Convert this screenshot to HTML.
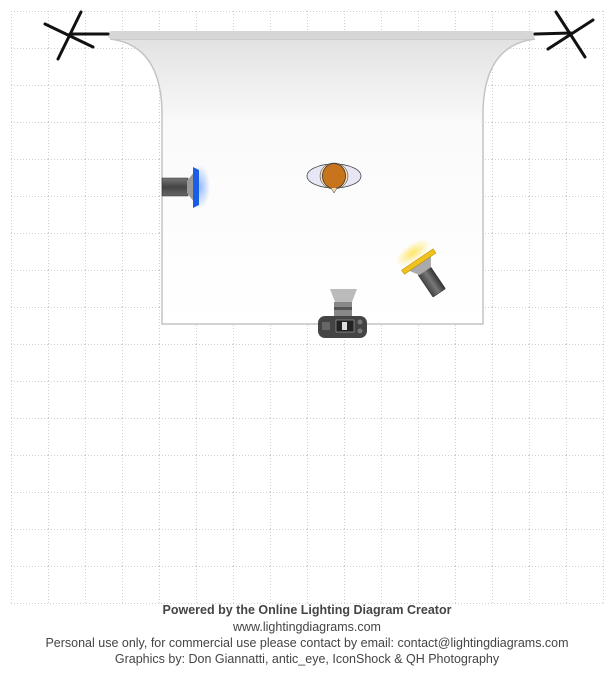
<!DOCTYPE html>
<html><head><style>
html,body{margin:0;padding:0;background:#fff;}
.t{position:absolute;left:0;width:614px;text-align:center;font-family:"Liberation Sans",Arial,sans-serif;font-size:12.5px;color:#444;}
</style></head><body>
<div style="position:relative;width:614px;height:674px;overflow:hidden;">
<svg width="614" height="674" style="position:absolute;left:0;top:0">
<defs>
<pattern id="g" x="11" y="11" width="37" height="37" patternUnits="userSpaceOnUse">
<path d="M0 0.5H37M0.5 0V37" stroke="#d0d0d0" stroke-width="1" stroke-dasharray="1 2" fill="none"/>
</pattern>
<linearGradient id="pg" x1="0" y1="0" x2="0" y2="1">
<stop offset="0" stop-color="#e2e2e2"/><stop offset="0.3" stop-color="#fafafa"/><stop offset="1" stop-color="#fff"/>
</linearGradient>
<linearGradient id="gb" x1="0" y1="0" x2="0" y2="1"><stop offset="0" stop-color="#777"/><stop offset="0.5" stop-color="#444"/><stop offset="1" stop-color="#666"/></linearGradient>
<linearGradient id="gb2" x1="0" y1="0" x2="1" y2="0"><stop offset="0" stop-color="#444"/><stop offset="0.5" stop-color="#777"/><stop offset="1" stop-color="#333"/></linearGradient>
<radialGradient id="bl" cx="0.5" cy="0.5" r="0.5"><stop offset="0" stop-color="#6aa0ff" stop-opacity="0.7"/><stop offset="1" stop-color="#6aa0ff" stop-opacity="0"/></radialGradient>
<radialGradient id="yl" cx="0.5" cy="0.5" r="0.5"><stop offset="0" stop-color="#ffe040" stop-opacity="0.8"/><stop offset="1" stop-color="#ffe040" stop-opacity="0"/></radialGradient>
</defs>
<rect x="11" y="11" width="592" height="592" fill="url(#g)"/>
<path d="M11 603.5H603.5M603.5 11V603.5" stroke="#d0d0d0" stroke-dasharray="1 2"/>
<path d="M110 39 Q160 45 162 110 V324 H483 V110 Q485 45 535 39 Z" fill="url(#pg)" stroke="#c4c4c4" stroke-width="1.5"/>
<rect x="108" y="31" width="427" height="8" rx="4" fill="#d6d6d6"/>
<g stroke="#111" stroke-width="3" stroke-linecap="round">
<line x1="70" y1="34" x2="108" y2="34"/>
<line x1="45" y1="24" x2="93" y2="47"/><line x1="81" y1="12" x2="58" y2="59"/>
<line x1="571" y1="33" x2="535" y2="34"/>
<line x1="556" y1="12" x2="585" y2="57"/><line x1="593" y1="20" x2="548" y2="49"/>
</g>
<ellipse cx="200" cy="187" rx="10" ry="22" fill="url(#bl)"/>
<rect x="162" y="178" width="26" height="18" fill="url(#gb)" stroke="#333" stroke-width="0.5"/>
<path d="M187 181 L195 171 V203 L187 193Z" fill="#999"/>
<path d="M193 167 L199 170 V205 L193 208Z" fill="#1a5ee8"/>
<ellipse cx="334" cy="176" rx="27" ry="12" fill="#e6e6f4" stroke="#333" stroke-width="0.7"/>
<ellipse cx="334" cy="176" rx="14" ry="13" fill="#f4dcb0" stroke="#333" stroke-width="0.5"/>
<ellipse cx="334" cy="176" rx="11.5" ry="12.5" fill="#c8741c" stroke="#333" stroke-width="0.8"/>
<path d="M331 188 L334 193 L337 188" fill="#f4dcb0" stroke="#333" stroke-width="0.5"/>
<g transform="rotate(-34 419 262)">
<ellipse cx="419" cy="251" rx="20" ry="9" fill="url(#yl)"/>
<rect x="411" y="272" width="15" height="27" fill="url(#gb2)" stroke="#333" stroke-width="0.5" rx="1"/>
<path d="M406 264 H432 L426 273 H412Z" fill="#aaa"/>
<rect x="400" y="259" width="38" height="5" fill="#f2c21c" stroke="#b08a00" stroke-width="0.5"/>
</g>
<path d="M330 289 H357 L352 302 H335Z" fill="#bbb"/>
<rect x="334" y="302" width="18" height="16" fill="#888"/>
<rect x="334" y="307" width="18" height="3" fill="#555"/>
<rect x="318" y="316" width="49" height="22" rx="7" fill="#444"/>
<rect x="336" y="320" width="18" height="12" fill="#222" stroke="#999" stroke-width="0.7"/>
<rect x="342" y="322" width="5" height="8" fill="#ddd"/>
<rect x="322" y="322" width="8" height="8" fill="#666"/>
<circle cx="360" cy="322" r="2.5" fill="#777"/><circle cx="360" cy="331" r="2.5" fill="#777"/>
</svg>
<div class="t" style="top:603px;font-weight:bold;">Powered by the Online Lighting Diagram Creator</div>
<div class="t" style="top:620px;">www.lightingdiagrams.com</div>
<div class="t" style="top:636px;">Personal use only, for commercial use please contact by email: contact@lightingdiagrams.com</div>
<div class="t" style="top:652px;">Graphics by: Don Giannatti, antic_eye, IconShock &amp; QH Photography</div>
</div>
</body></html>
